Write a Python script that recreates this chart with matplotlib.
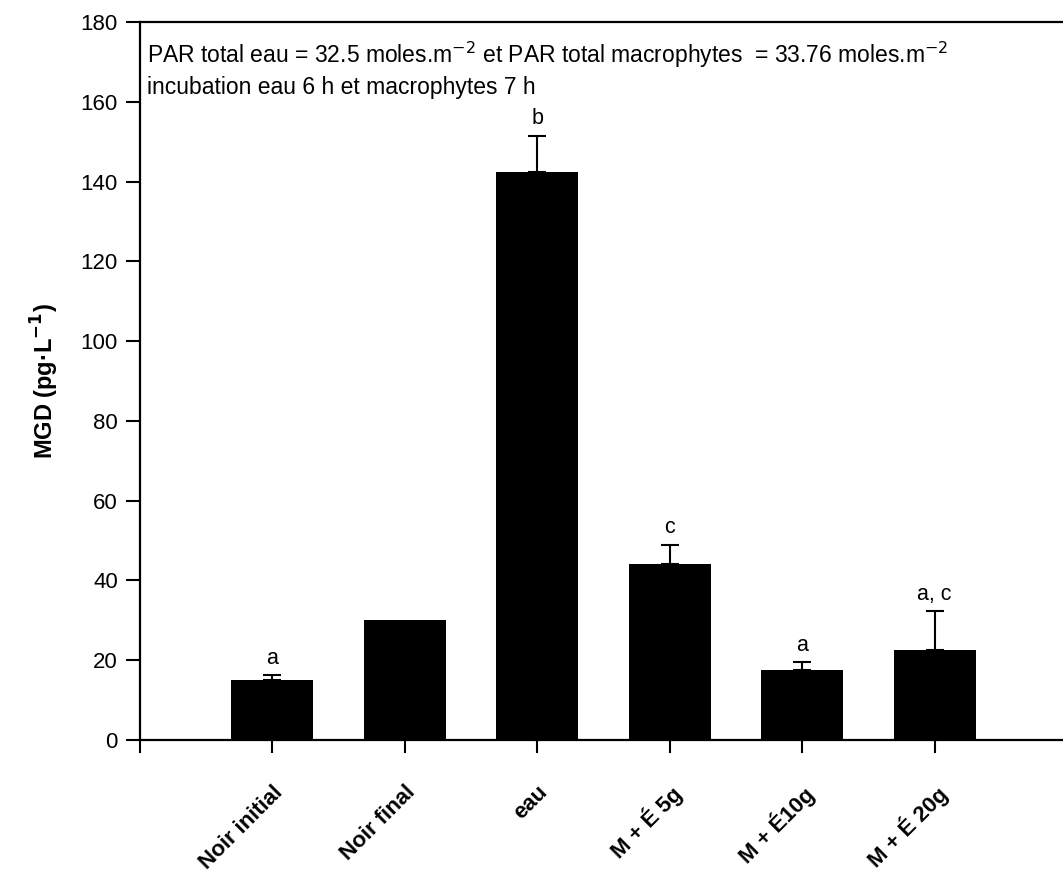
import matplotlib
matplotlib.use("Agg")
import matplotlib.pyplot as plt
import matplotlib.transforms as mtransforms
from matplotlib import font_manager

categories = ["Noir initial", "Noir final", "eau", "M + É 5g", "M + É10g", "M + É 20g"]
values = [15.0, 30.0, 142.5, 44.0, 17.5, 22.5]
errors = [1.2, 0.0, 9.0, 5.0, 2.0, 9.8]
letters = ["a", "", "b", "c", "a", "a, c"]
yticks = [0, 20, 40, 60, 80, 100, 120, 140, 160, 180]

plt.rcParams['font.family'] = ['Liberation Sans', 'DejaVu Sans']
names = {f.name for f in font_manager.fontManager.ttflist}
narrow = 'Liberation Sans Narrow' if 'Liberation Sans Narrow' in names else 'Liberation Sans'

fig = plt.figure(figsize=(10.63, 8.72), dpi=100)
ax = fig.add_axes([0.1317, 0.1514, 0.8683 + 0.01, 0.8234])

x = list(range(1, len(categories) + 1))
ax.bar(x, values, width=0.62, color='black', zorder=2)
for xi, v, e in zip(x, values, errors):
    if e > 0:
        ax.errorbar(xi, v, yerr=[[0], [e]], fmt='none', ecolor='black',
                    elinewidth=1.5, capsize=6.5, capthick=1.5, zorder=1)
for xi, v, e, t in zip(x, values, errors, letters):
    if t:
        ax.text(xi, v + e + 1.6, t, ha='center', va='bottom', fontsize=15.5)

ax.set_xlim(0, 7.05)
ax.set_ylim(0, 180)
ax.set_yticks(yticks)
ax.set_yticklabels([str(t) for t in yticks], fontsize=16)
ax.set_xticks([0] + x)
ax.set_xticklabels([""] + categories, rotation=45, ha='right', rotation_mode='anchor',
                   fontsize=16, fontweight='bold', family=narrow)
offset = mtransforms.ScaledTranslation(27 / 100, 0, fig.dpi_scale_trans)
for lab in ax.get_xticklabels():
    lab.set_transform(lab.get_transform() + offset)
ax.tick_params(axis='x', direction='out', length=9, width=1.5, pad=21)
ax.tick_params(axis='y', direction='out', length=10, width=1.5, pad=6)

for s in ['left', 'bottom', 'top']:
    ax.spines[s].set_linewidth(1.6)
ax.spines['right'].set_visible(False)

ax.set_ylabel("MGD (pg·L$^{\\mathbf{-1}}$)", fontsize=17, fontweight='bold', labelpad=14)

ax.text(0.008, 0.975, "PAR total eau = 32.5 moles.m$^{-2}$ et PAR total macrophytes  = 33.76 moles.m$^{-2}$",
        transform=ax.transAxes, fontsize=16.5, va='top', ha='left')
ax.text(0.008, 0.925, "incubation eau 6 h et macrophytes 7 h",
        transform=ax.transAxes, fontsize=16.5, va='top', ha='left')

fig.savefig("out.png", dpi=100)
